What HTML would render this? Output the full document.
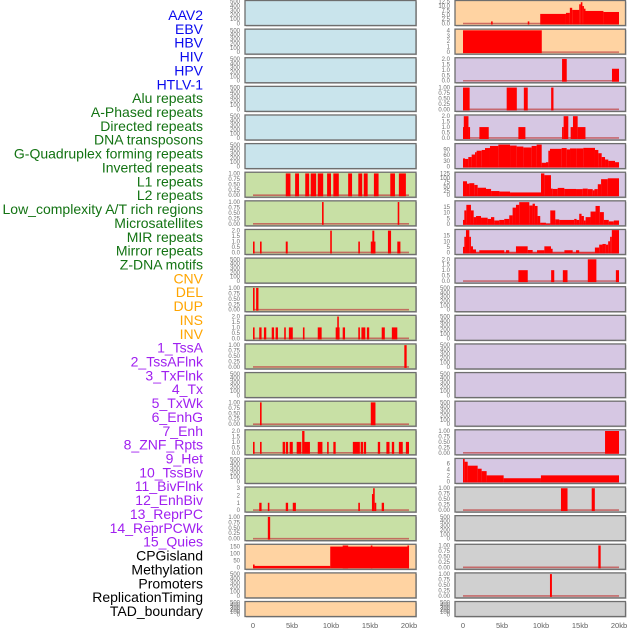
<!DOCTYPE html>
<html><head><meta charset="utf-8"><style>
html,body{margin:0;padding:0;background:#fff;width:630px;height:630px;overflow:hidden}
svg{display:block;font-family:"Liberation Sans",sans-serif}
</style></head><body>
<svg id="chart" width="630" height="630" viewBox="0 0 630 630"></svg>
<script>
// ---------- data ----------
const labelNames = ["AAV2","EBV","HBV","HIV","HPV","HTLV-1","Alu repeats","A-Phased repeats","Directed repeats","DNA transposons","G-Quadruplex forming repeats","Inverted repeats","L1 repeats","L2 repeats","Low_complexity A/T rich regions","Microsatellites","MIR repeats","Mirror repeats","Z-DNA motifs","CNV","DEL","DUP","INS","INV","1_TssA","2_TssAFlnk","3_TxFlnk","4_Tx","5_TxWk","6_EnhG","7_Enh","8_ZNF_Rpts","9_Het","10_TssBiv","11_BivFlnk","12_EnhBiv","13_ReprPC","14_ReprPCWk","15_Quies","CPGisland","Methylation","Promoters","ReplicationTiming","TAD_boundary"];
const labelGroups = [0,0,0,0,0,0,1,1,1,1,1,1,1,1,1,1,1,1,1,2,2,2,2,2,3,3,3,3,3,3,3,3,3,3,3,3,3,3,3,4,4,4,4,4];
const xTicks = [0,5,10,15,20];
const xTickLabels = ["0","5kb","10kb","15kb","20kb"];

const t500 = [0,100,200,300,400,500], t500L = ["0","100","200","300","400","500"];
const t1 = [0,0.25,0.5,0.75,1], t1L = ["0.00","0.25","0.50","0.75","1.00"];
const t2 = [0,0.5,1,1.5,2], t2L = ["0.0","0.5","1.0","1.5","2.0"];
const t3 = [0,1,2,3], t3L = ["0","1","2","3"];
const tCpg = [0,50,100,150], tCpgL = ["0","50","100","150"];
const tAav = [0,2.5,5,7.5,10,12.5], tAavL = ["0.0","2.5","5.0","7.5","10.0","12.5"];
const tEbv = [0,1,2,3,4], tEbvL = ["0","1","2","3","4"];
const tGq = [0,30,60,90], tGqL = ["0","30","60","90"];
const t125 = [0,25,50,75,100,125], t125L = ["0","25","50","75","100","125"];
const t15 = [0,5,10,15], t15L = ["0","5","10","15"];
const t6 = [0,2,4,6], t6L = ["0","2","4","6"];

// middle column segments [start kb, end kb, value]
const midL1 = [[4.2,4.8,1],[5.4,5.9,1],[6.7,7.2,1],[7.4,8.1,1],[8.3,9.0,1],[9.5,10.0,1],[10.3,11.0,1],[12.2,12.7,1],[13.5,14.0,1],[14.2,14.7,1],[15.5,16.1,1],[17.6,18.2,1],[18.7,19.6,1]];
const midL2 = [[8.85,9.05,1],[18.55,18.75,1]];
const midMir = [[0,0.2,1],[0.9,1.1,1],[4.2,4.45,1],[9.9,10.1,2],[13.5,13.7,1],[15.1,15.7,1],[15.3,15.55,2],[17.3,17.7,2],[18.5,18.9,1]];
const midDel = [[0,0.12,1],[0.4,0.7,1]];
const midIns = [[0,0.2,1],[0.8,1.1,1],[1.4,1.7,1],[2.4,2.7,1],[2.9,3.2,1],[4.0,4.2,1],[4.6,5.1,1],[6.4,6.6,1],[8.3,8.8,1],[10.6,11.1,1],[10.8,11.0,2],[11.5,11.8,1],[13.5,13.7,1],[13.9,14.4,1],[14.6,14.9,1],[16.5,16.9,1],[17.8,18.5,1]];
const midTssA = [[19.4,19.7,1]];
const midTxWk = [[0.9,1.1,1],[15.1,15.7,1]];
const midEnh = [[0,0.2,1],[0.9,1.1,1],[3.8,4.1,1],[4.2,4.5,1],[4.7,5.1,1],[5.6,6.2,1],[6.3,6.6,2],[6.6,7.3,1],[8.3,8.9,1],[9.5,9.7,1],[10.3,10.6,1],[12.8,13.7,1],[13.8,14.1,1],[14.2,14.5,1],[16.0,16.3,1],[17.1,17.5,1],[17.8,18.1,1],[18.7,19.2,1],[19.6,20.0,1]];
const midBiv = [[0.8,1.1,1],[1.9,2.1,1],[4.2,4.5,1],[5.1,5.5,1],[13.5,13.7,1],[15.25,15.4,2.2],[15.4,15.6,3],[15.6,15.7,1],[16.5,16.8,1]];
const midPc = [[1.9,2.2,1]];
const midCpg = [[0,0.15,20],[0.15,9.9,10],[9.9,20,150],[11.5,12.2,158],[15.1,15.3,158],[19.8,20,158]];

// right column
const rAav = [[3.6,3.8,1.2],[8.3,8.5,1.2],[9.9,13.2,5.5],[13.2,13.7,6.1],[13.7,14.0,9.0],[14.0,14.9,7.8],[14.9,15.1,11],[15.1,15.3,12.2],[15.3,15.5,10],[15.5,15.7,8.5],[15.7,18.0,7.2],[18.0,20.0,6.6]];
const rEbv = [[0,10.1,4]];
const rHiv = [[12.7,13.3,2],[19.1,20,1.1]];
const rHpv = [[0,0.85,1],[5.6,6.9,1],[7.8,8.3,1],[11.3,11.6,1]];
const rAlu = [[0,0.1,1],[0.1,0.7,2],[0.7,0.9,1],[2.1,3.3,1],[7.1,8.0,1],[12.7,12.9,1],[12.9,13.5,2],[13.8,14.1,1],[14.1,14.7,2],[14.7,15.7,1]];
const gqStart = [0,0.26,0.68,1.11,1.54,1.75,2.4,2.82,3.46,4.53,6.03,6.88,7.74,8.8,9.44,10.09,10.64,10.94,11.15,12.65,13.29,13.72,14.57,15.43,16.92,17.35,17.78,18.21,18.63,19.49];
const gqValue = [43,40,50,63,75,83,87,97,108,115,110,105,100,108,115,20,23,83,93,97,90,95,95,98,87,70,50,37,30,23];
const invStart = [0,0.51,0.81,1.45,1.88,2.95,3.6,4.67,6.03,10.0,10.43,11.28,11.5,12.14,12.99,14.49,15.35,15.99,16.63,16.85,17.28,17.7,18.56];
const invValue = [80,66,69,59,43,36,24,21,16,125,115,38,36,42,36,35,38,35,28,35,63,92,97];
const lowStart = [0,0.17,0.43,1.02,1.37,1.67,2.31,3.16,3.59,4.01,4.65,5.29,5.93,6.36,6.79,7.21,8.5,8.92,9.22,9.56,9.9,10.63,11.19,11.83,12.34,14.26,14.56,14.9,15.2,15.5,15.72,16.35,16.99,17.54,18.06,18.69,19.33];
const lowValue = [3.5,12,17,12,6,7,5.5,4.4,6,3,3.5,4.4,7.6,14.5,17,19.4,16.4,18,16,7,1,0,12,4,3.5,4.4,3.5,9,7,3,6,11,16,10.5,3.5,2.2,3];
const micStart = [0,0.17,0.38,0.81,1.02,1.28,1.67,2.09,5.0,5.29,5.51,5.93,6.79,8.29,8.93,9.49,10.43,11.28,11.49,13.0,14.06,14.49,14.9,16.91,17.46,17.88,18.31,18.61,18.86,19.08];
const micValue = [5,14,20,14,5.5,2.7,0,2,2,0,2,0,5.5,2.2,0,2,5.5,3.3,0,2,0,2,0,4.4,7,7.6,7,10,14,20];
const rMirror = [[7.1,8.3,1],[11.3,11.7,1],[12.8,13.4,1],[16.0,17.1,2],[19.6,20,1]];
const rEnh = [[18.21,20,1]];
const tssbStart = [0,0.21,0.6,1.88,2.39,3.03,5.21,9.99];
const tssbValue = [7.4,6.5,5.2,4.2,3.4,2,1.05,2];
const rRepr = [[12.56,13.4,1],[16.5,16.9,1]];
const rMeth = [[17.35,17.65,1]];
const rProm = [[11.15,11.4,1]];

function prof(starts, vals){ return starts.map((s,i)=>[s, i+1<starts.length?starts[i+1]:20, vals[i]]); }

const C_BLUE="#c9e4ec", C_GREEN="#c8e0a5", C_ORANGE="#ffd3a2", C_PURPLE="#d6c7e3", C_GREY="#d0d0d0";
const midRows = [
 {bg:C_BLUE,t:t500,l:t500L,max:500},{bg:C_BLUE,t:t500,l:t500L,max:500},{bg:C_BLUE,t:t500,l:t500L,max:500},
 {bg:C_BLUE,t:t500,l:t500L,max:500},{bg:C_BLUE,t:t500,l:t500L,max:500},{bg:C_BLUE,t:t500,l:t500L,max:500},
 {bg:C_GREEN,t:t1,l:t1L,max:1,d:midL1},{bg:C_GREEN,t:t1,l:t1L,max:1,d:midL2},{bg:C_GREEN,t:t2,l:t2L,max:2,d:midMir},
 {bg:C_GREEN,t:t500,l:t500L,max:500},{bg:C_GREEN,t:t1,l:t1L,max:1,d:midDel},{bg:C_GREEN,t:t2,l:t2L,max:2,d:midIns},
 {bg:C_GREEN,t:t1,l:t1L,max:1,d:midTssA},{bg:C_GREEN,t:t500,l:t500L,max:500},{bg:C_GREEN,t:t1,l:t1L,max:1,d:midTxWk},
 {bg:C_GREEN,t:t2,l:t2L,max:2,d:midEnh},{bg:C_GREEN,t:t500,l:t500L,max:500},{bg:C_GREEN,t:t3,l:t3L,max:3,d:midBiv},
 {bg:C_GREEN,t:t1,l:t1L,max:1,d:midPc},{bg:C_ORANGE,t:tCpg,l:tCpgL,max:158,d:midCpg},{bg:C_ORANGE,t:t500,l:t500L,max:500},
 {bg:C_ORANGE,t:t500,l:t500L,max:500}];
const rightRows = [
 {bg:C_ORANGE,t:tAav,l:tAavL,max:12.5,d:rAav},{bg:C_ORANGE,t:tEbv,l:tEbvL,max:4,d:rEbv},{bg:C_PURPLE,t:t2,l:t2L,max:2,d:rHiv},
 {bg:C_PURPLE,t:t1,l:t1L,max:1,d:rHpv},{bg:C_PURPLE,t:t2,l:t2L,max:2,d:rAlu},{bg:C_PURPLE,t:tGq,l:tGqL,max:114,d:prof(gqStart,gqValue)},
 {bg:C_PURPLE,t:t125,l:t125L,max:125,d:prof(invStart,invValue)},{bg:C_PURPLE,t:t15,l:t15L,max:19.5,d:prof(lowStart,lowValue)},
 {bg:C_PURPLE,t:t15,l:t15L,max:19.5,d:prof(micStart,micValue)},{bg:C_PURPLE,t:t2,l:t2L,max:2,d:rMirror},
 {bg:C_PURPLE,t:t500,l:t500L,max:500},{bg:C_PURPLE,t:t500,l:t500L,max:500},{bg:C_PURPLE,t:t500,l:t500L,max:500},
 {bg:C_PURPLE,t:t500,l:t500L,max:500},{bg:C_PURPLE,t:t500,l:t500L,max:500},{bg:C_PURPLE,t:t1,l:t1L,max:1,d:rEnh},
 {bg:C_PURPLE,t:t6,l:t6L,max:7.2,d:prof(tssbStart,tssbValue)},{bg:C_GREY,t:t1,l:t1L,max:1,d:rRepr},
 {bg:C_GREY,t:t500,l:t500L,max:500},{bg:C_GREY,t:t1,l:t1L,max:1,d:rMeth},{bg:C_GREY,t:t1,l:t1L,max:1,d:rProm},
 {bg:C_GREY,t:t500,l:t500L,max:500}];

// ---------- drawing ----------
const NS="http://www.w3.org/2000/svg";
const svg=document.getElementById('chart');
function mk(tag,attrs,parent){const e=document.createElementNS(NS,tag);for(const k in attrs)e.setAttribute(k,attrs[k]);(parent||svg).appendChild(e);return e;}

const groupColors=["#0a0aee","#137313","#ffa500","#a020f0","#000000"];
const labelG=mk('g',{});


labelNames.forEach((n,i)=>{
  const t=mk('text',{x:203,y:20+i*13.86,'text-anchor':'end','font-size':'14',fill:groupColors[labelGroups[i]]},labelG);
  t.textContent=n;
  
  
});

const PITCH=28.62;
function drawColumn(rows,px0,px1,dx0,name){
  const g=mk('g',{});
  
  
  const xs=kb=>dx0+kb*7.8;
  rows.forEach((r,i)=>{
    const y=i*PITCH+0.5, h=(i===rows.length-1)?15:25;
    const pg=mk('g',{},g);
    
    
    mk('rect',{x:px0+1,y:y+1,width:px1-px0,height:h,fill:'#bdbdbd'},pg);
    mk('rect',{x:px0,y:y,width:px1-px0,height:h,fill:r.bg,stroke:'#6e6e6e','stroke-width':1.3},pg);
    const y0=y+h-2, ytop=y+1.2;
    const ys=v=>y0-(v/r.max)*(y0-ytop);
    r.t.forEach((tv,k)=>{
      const tt=mk('text',{x:px0-5,y:ys(tv)+2,'text-anchor':'end','font-size':'6',fill:'#707070'},pg);
      tt.textContent=r.l[k];
      
      
    });
    if(r.d){
      mk('line',{x1:xs(0),x2:xs(20),y1:y0,y2:y0,stroke:'#c04848','stroke-width':1.6,'stroke-opacity':0.75},pg);
      r.d.forEach(s=>{
        const xa=xs(s[0]), xb=xs(s[1]), yt=Math.max(ytop-1,ys(s[2]));
        const b=mk('rect',{x:xa,y:yt,width:Math.max(1.6,xb-xa),height:Math.max(0,y0+1-yt),fill:'#ff0000'},pg);
        
        
      });
    }
  });
  xTicks.forEach((kb,k)=>{
    const t=mk('text',{x:xs(kb),y:628,'text-anchor':'middle','font-size':'7.5',fill:'#606060'},g);
    t.textContent=xTickLabels[k];
    
    
  });
}
drawColumn(midRows,245,416,253,'middle-track-column');
drawColumn(rightRows,455,625.5,463,'right-track-column');
</script>
</body></html>
